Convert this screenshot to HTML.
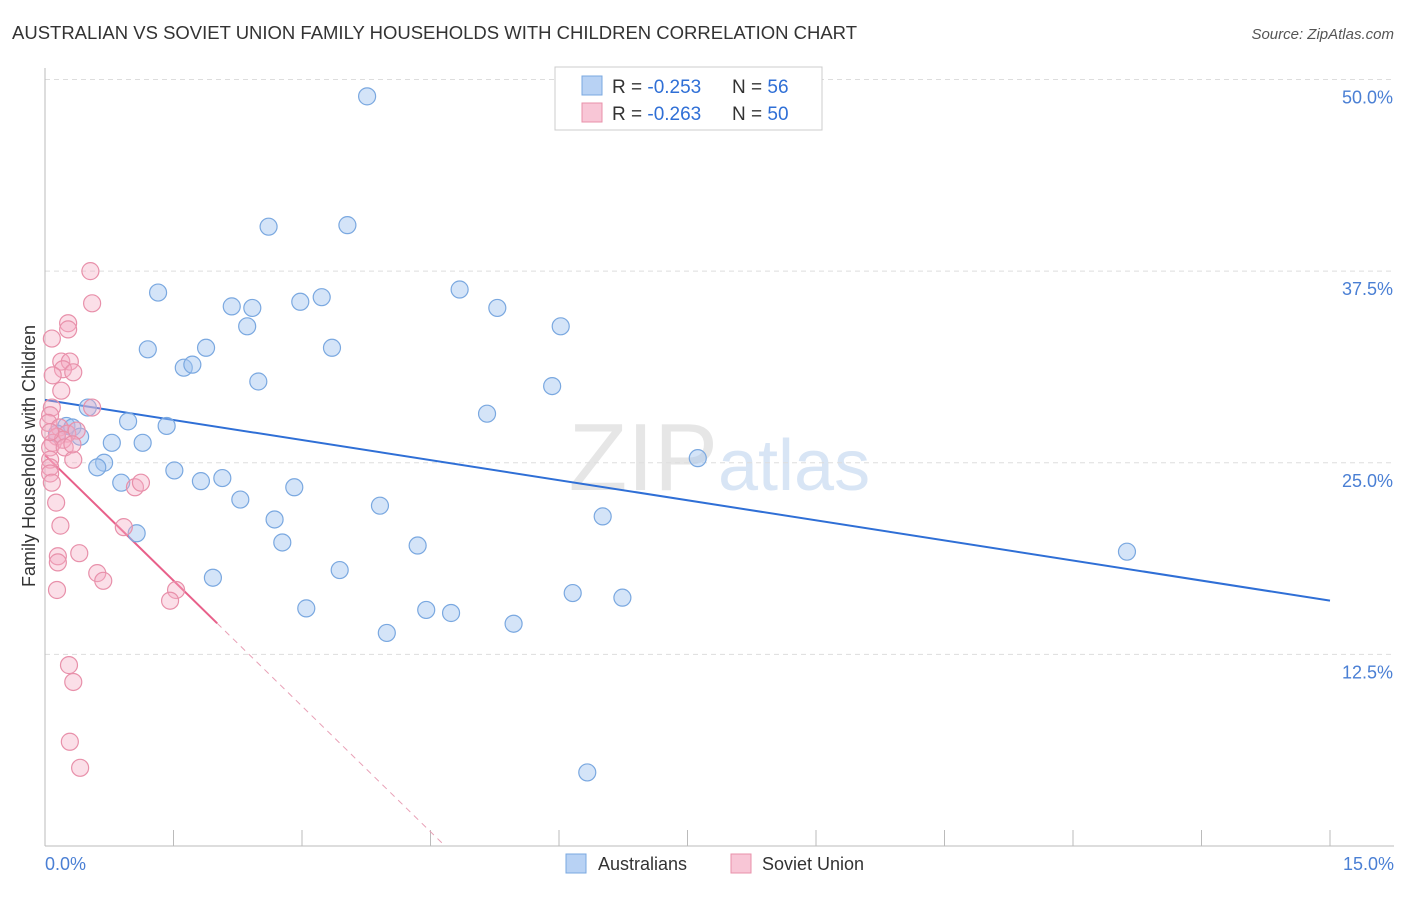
<!DOCTYPE html>
<html><head><meta charset="utf-8"><style>
body{margin:0;background:#fff;font-family:"Liberation Sans",sans-serif;}
svg text{font-family:"Liberation Sans",sans-serif;}
</style></head><body>
<svg id="chart" width="1406" height="892" xmlns="http://www.w3.org/2000/svg">
<text x="12" y="39" font-size="18" fill="#333" textLength="845" lengthAdjust="spacingAndGlyphs">AUSTRALIAN VS SOVIET UNION FAMILY HOUSEHOLDS WITH CHILDREN CORRELATION CHART</text>
<text x="1394" y="39" font-size="15" fill="#555" font-style="italic" text-anchor="end">Source: ZipAtlas.com</text>
<text x="718" y="490" font-size="96" fill="#e6e6e6" text-anchor="end" font-family="Liberation Serif">ZIP</text>
<text x="718" y="490" font-size="72" fill="#d8e5f5">atlas</text>
<g id="grid"></g><g id="axes"></g><g id="trends"></g><g id="pts"></g>
<text x="35" y="456" font-size="18" fill="#333" text-anchor="middle" transform="rotate(-90 35 456)">Family Households with Children</text>
<g>
<rect x="555" y="67" width="267" height="63" fill="#fff" stroke="#ccc"/>
<rect x="582" y="76" width="20" height="19" fill="#b8d2f4" stroke="#7aa8e0"/>
<rect x="582" y="103" width="20" height="19" fill="#f8c6d6" stroke="#e890aa"/>
<text x="612" y="93" font-size="19" fill="#333">R = <tspan fill="#2f6fd6">-0.253</tspan></text>
<text x="732" y="93" font-size="19" fill="#333">N = <tspan fill="#2f6fd6">56</tspan></text>
<text x="612" y="120" font-size="19" fill="#333">R = <tspan fill="#2f6fd6">-0.263</tspan></text>
<text x="732" y="120" font-size="19" fill="#333">N = <tspan fill="#2f6fd6">50</tspan></text>
</g>
<rect x="566" y="854" width="20" height="19" fill="#b8d2f4" stroke="#7aa8e0"/>
<text x="598" y="870" font-size="18" fill="#333">Australians</text>
<rect x="731" y="854" width="20" height="19" fill="#f8c6d6" stroke="#e890aa"/>
<text x="762" y="870" font-size="18" fill="#333">Soviet Union</text>
</svg>
<script>
const yTicks=[12.5,25,37.5,50];
const yTickLabels=["12.5%","25.0%","37.5%","50.0%"];
const xTicks=[0,1.5,3,4.5,6,7.5,9,10.5,12,13.5,15];
const xTickLabels=["0.0%","15.0%"];
const blueX=[3.76,2.61,3.53,1.32,2.18,2.42,2.98,3.23,4.84,5.28,6.02,2.36,1.20,1.88,3.35,1.62,1.72,2.49,5.92,0.50,5.16,0.97,1.42,0.25,0.32,0.14,0.41,0.78,1.14,7.62,0.69,0.61,1.51,2.07,1.82,0.89,2.91,2.28,3.91,2.68,6.51,1.07,2.77,4.35,12.63,3.44,1.96,6.16,6.74,3.05,4.45,4.74,3.99,5.47,6.33];
const blueY=[48.9,40.4,40.5,36.1,35.2,35.1,35.5,35.8,36.3,35.1,33.9,33.9,32.4,32.5,32.5,31.2,31.4,30.3,30.0,28.6,28.2,27.7,27.4,27.4,27.3,26.9,26.7,26.3,26.3,25.3,25.0,24.7,24.5,24.0,23.8,23.7,23.4,22.6,22.2,21.3,21.5,20.4,19.8,19.6,19.2,18.0,17.5,16.5,16.2,15.5,15.4,15.2,13.9,14.5,4.8];
const pinkX=[0.53,0.55,0.27,0.27,0.08,0.19,0.29,0.21,0.33,0.09,0.19,0.55,0.08,0.06,0.04,0.17,0.26,0.37,0.14,0.09,0.21,0.06,0.23,0.33,0.06,0.06,0.06,0.08,1.05,1.12,0.13,0.18,0.92,0.40,0.15,0.15,0.61,0.68,0.14,1.53,1.46,0.28,0.33,0.29,0.41,0.06,0.32];
const pinkY=[37.5,35.4,34.1,33.7,33.1,31.6,31.6,31.1,30.9,30.7,29.7,28.6,28.6,28.1,27.6,27.3,26.9,27.1,26.7,26.3,26.5,26.0,26.0,25.2,25.2,24.7,24.3,23.7,23.4,23.7,22.4,20.9,20.8,19.1,18.9,18.5,17.8,17.3,16.7,16.7,16.0,11.8,10.7,6.8,5.1,27.0,26.2];
const blueTrend=[29.1,-0.873]; // intercept, slope
const pinkTrend=[25.5,-5.46];
const pinkSolidEnd=2.01;

const X=v=>45+v*(1285/15);
const Y=v=>846-v*15.33;
const NS="http://www.w3.org/2000/svg";
function mk(tag,attrs,parent){const e=document.createElementNS(NS,tag);for(const k in attrs)e.setAttribute(k,attrs[k]);document.getElementById(parent).appendChild(e);return e;}
yTicks.forEach((t,i)=>{
 const l=mk('line',{x1:45,x2:1394,y1:Y(t),y2:Y(t),stroke:'#ddd','stroke-dasharray':'5,4'},'grid');
 
 
 const tx=mk('text',{x:1393,y:Y(t)+24,'font-size':18,fill:'#4a7fd4','text-anchor':'end'},'grid');
 tx.textContent=yTickLabels[i];
 
 
});
const ax=mk('line',{x1:45,x2:45,y1:68,y2:846,stroke:'#bbb'},'axes');


const bx=mk('line',{x1:45,x2:1394,y1:846,y2:846,stroke:'#bbb'},'axes');


xTicks.forEach(t=>{
 const l=mk('line',{x1:X(t),x2:X(t),y1:830,y2:846,stroke:'#bbb'},'axes');
 
 
});
[[0,'start',xTickLabels[0]],[15,'end',xTickLabels[1]]].forEach(([v,a,s])=>{
 const tx=mk('text',{x:X(v)+(a==='end'?64:0),y:870,'font-size':18,fill:'#4a7fd4','text-anchor':a},'axes');
 tx.textContent=s;
 
 
});
blueX.forEach((x,i)=>{
 const c=mk('circle',{cx:X(x),cy:Y(blueY[i]),r:8.5,fill:'rgba(160,196,240,0.45)',stroke:'#7aa8e0','stroke-width':1.2},'pts');
 
 
});
pinkX.forEach((x,i)=>{
 const c=mk('circle',{cx:X(x),cy:Y(pinkY[i]),r:8.5,fill:'rgba(245,170,195,0.38)',stroke:'#e890aa','stroke-width':1.2},'pts');
 
 
});
const bl=mk('line',{x1:X(0),y1:Y(blueTrend[0]),x2:X(15),y2:Y(blueTrend[0]+blueTrend[1]*15),stroke:'#2f6fd6','stroke-width':2},'trends');


const pl=mk('line',{x1:X(0),y1:Y(pinkTrend[0]),x2:X(pinkSolidEnd),y2:Y(pinkTrend[0]+pinkTrend[1]*pinkSolidEnd),stroke:'#e8608a','stroke-width':2},'trends');


const xEnd=-pinkTrend[0]/pinkTrend[1];
const pd=mk('line',{x1:X(pinkSolidEnd),y1:Y(pinkTrend[0]+pinkTrend[1]*pinkSolidEnd),x2:X(xEnd),y2:Y(0),stroke:'#e8a0b6','stroke-width':1,'stroke-dasharray':'6,5'},'trends');


</script>
</body></html>
